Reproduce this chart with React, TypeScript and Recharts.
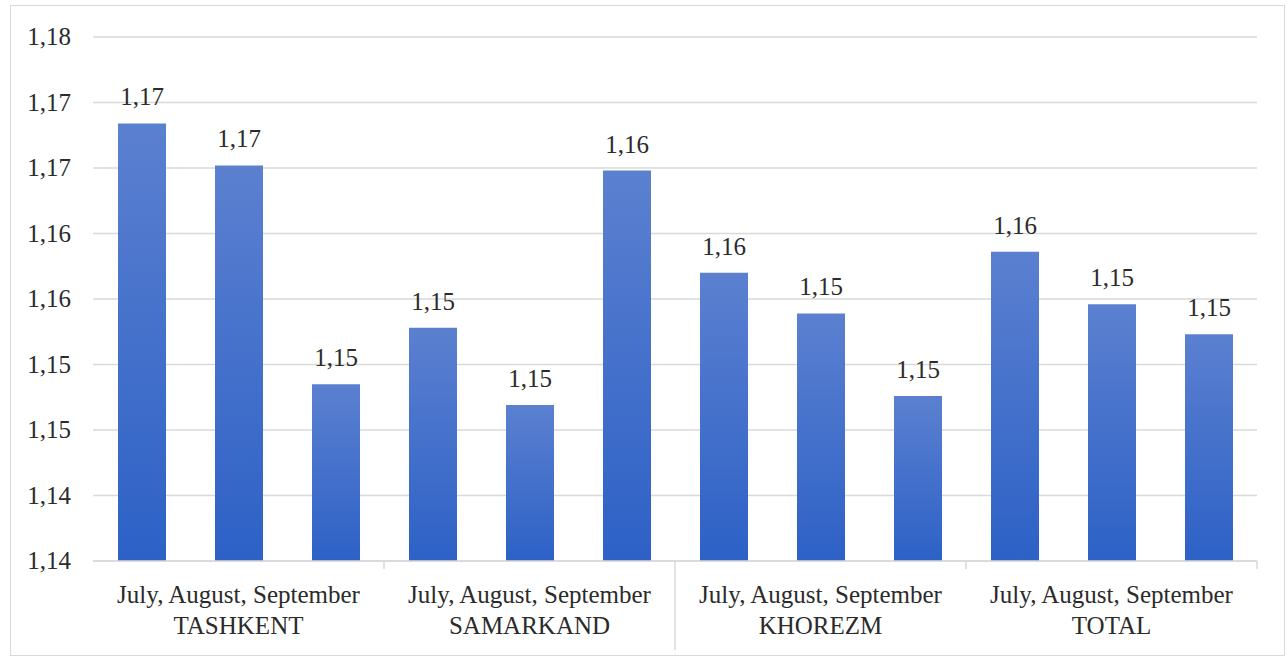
import { Bar, BarChart, CartesianGrid, LabelList, XAxis, YAxis } from "recharts";

const regions = ["TASHKENT", "SAMARKAND", "KHOREZM", "TOTAL"];
const months = ["July", "August", "September"];
const monthsLabel = "July, August, September";

// one array per region, in month order
const tashkent = [1.1734, 1.1702, 1.1535];
const samarkand = [1.1578, 1.1519, 1.1698];
const khorezm = [1.162, 1.1589, 1.1526];
const total = [1.1636, 1.1596, 1.1573];

const yTicks = [1.14, 1.145, 1.15, 1.155, 1.16, 1.165, 1.17, 1.175, 1.18];

const seriesByRegion = [tashkent, samarkand, khorezm, total];

const data = regions.flatMap((region, r) =>
  months.map((month, m) => ({
    key: `${region}-${month}`,
    region,
    month,
    value: seriesByRegion[r][m],
  }))
);

const W = 1287;
const H = 661;
const FONT = "'Liberation Serif', serif";
const TEXT = "#2b2b2b";
const GRID = "#d9d9d9";
const textStyle = { fontFamily: FONT, fontSize: 25, fill: TEXT };

// Excel-style: values truncated to two decimals, comma separator
function fmt(v: number) {
  const t = Math.floor(v * 100 + 1e-6) / 100;
  return t.toFixed(2).replace(".", ",");
}

function CategoryTick(props: any) {
  const { x, y, index, payload } = props;
  const half = payload?.offset ?? 48.5;
  const parts: any[] = [];
  if (index % 3 === 1) {
    const region = data[index].region;
    parts.push(
      <text key="m" x={x} y={y + 42} textAnchor="middle" style={textStyle}>
        {monthsLabel}
      </text>,
      <text key="r" x={x} y={y + 73} textAnchor="middle" style={textStyle}>
        {region}
      </text>
    );
  }
  if (index % 3 === 0 && index > 0) {
    const long = index === 6;
    parts.push(
      <line key="s" x1={x - half} x2={x - half} y1={y} y2={y + (long ? 89 : 8)} stroke={GRID} strokeWidth={1.5} />
    );
  }
  if (index === data.length - 1) {
    parts.push(
      <line key="e" x1={x + half} x2={x + half} y1={y} y2={y + 8} stroke={GRID} strokeWidth={1.5} />
    );
  }
  return <g>{parts}</g>;
}

function ValueTick(props: any) {
  const { x, y, payload } = props;
  return (
    <text x={x} y={y} dy={8} textAnchor="end" style={textStyle}>
      {fmt(payload.value)}
    </text>
  );
}

function BarLabel(props: any) {
  const { x, y, width, value } = props;
  return (
    <text x={x + width / 2} y={y - 18} textAnchor="middle" style={textStyle}>
      {fmt(Number(value))}
    </text>
  );
}

export default function App() {
  return (
    <div
      style={{
        position: "absolute",
        left: 0,
        top: 0,
        width: W,
        height: H,
        background: "#fff",
        fontFamily: FONT,
      }}
    >
      <div
        style={{
          position: "absolute",
          left: 10,
          top: 5,
          width: 1275,
          height: 651,
          border: `1px solid ${GRID}`,
          boxSizing: "border-box",
        }}
      />
      <div style={{ position: "absolute", left: 0, top: 0 }}>
        <BarChart
          width={W}
          height={H}
          data={data}
          margin={{ top: 37, right: 30, bottom: 0, left: 0 }}
          barSize={48}
        >
          <defs>
            <linearGradient id="barFill" x1="0" y1="0" x2="0" y2="1">
              <stop offset="0%" stopColor="#5b80d0" />
              <stop offset="100%" stopColor="#2d61c6" />
            </linearGradient>
          </defs>
          <CartesianGrid vertical={false} stroke={GRID} strokeWidth={1.5} />
          <XAxis
            dataKey="key"
            interval={0}
            tickLine={false}
            tickSize={0}
            tickMargin={0}
            axisLine={{ stroke: GRID, strokeWidth: 1.5 }}
            tick={<CategoryTick />}
            height={100}
          />
          <YAxis
            width={93}
            domain={[1.14, 1.18]}
            ticks={yTicks}
            allowDataOverflow
            axisLine={false}
            tickLine={false}
            tickSize={0}
            tickMargin={22}
            tick={<ValueTick />}
          />
          <Bar dataKey="value" fill="url(#barFill)" isAnimationActive={false}>
            <LabelList dataKey="value" content={<BarLabel />} />
          </Bar>
        </BarChart>
      </div>
    </div>
  );
}
